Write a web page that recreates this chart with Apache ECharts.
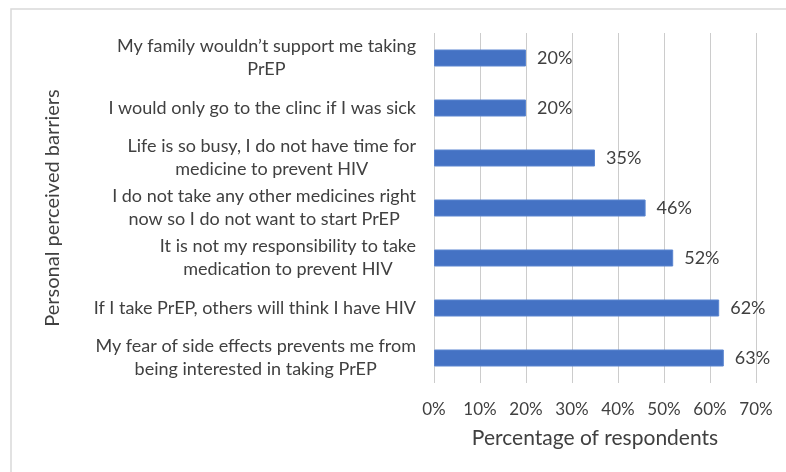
<!DOCTYPE html>
<html>
<head>
<meta charset="utf-8">
<script src="https://cdn.jsdelivr.net/npm/echarts@6/dist/echarts.min.js"></script>
<style>
  html, body { margin: 0; padding: 0; background: #ffffff; }
  #chart { width: 786px; height: 472px; }
</style>
</head>
<body>
<div id="chart"></div>
<script>
// Barriers, listed top to bottom
const barriers = [
  'My family wouldn\u2019t support me taking\nPrEP',
  'I would only go to the clinc if I was sick',
  'Life is so busy, I do not have time for\nmedicine to prevent HIV',
  'I do not take any other medicines right\nnow so I do not want to start PrEP',
  'It is not my responsibility to take\nmedication to prevent HIV',
  'If I take PrEP, others will think I have HIV',
  'My fear of side effects prevents me from\nbeing interested in taking PrEP'
];
// Share of respondents (%)
const shares = [20, 20, 35, 46, 52, 62, 63];
// Axis ticks (%)
const xTicks = [0, 10, 20, 30, 40, 50, 60, 70];

const FONT = 'Lato';
const TEXT = '#404040';

const chart = echarts.init(document.getElementById('chart'), null, { renderer: 'canvas' });

chart.setOption({
  backgroundColor: '#ffffff',
  animation: false,
  textStyle: { fontFamily: FONT, color: TEXT },
  graphic: [{
    type: 'rect',
    shape: { x: 11, y: 9, width: 790, height: 480 },
    style: { fill: 'none', stroke: '#d9d9d9', lineWidth: 1.5 },
    silent: true
  }],
  grid: { left: 434, right: 30, top: 33, bottom: 89 },
  xAxis: {
    type: 'value',
    min: xTicks[0],
    max: xTicks[xTicks.length - 1],
    interval: xTicks[1] - xTicks[0],
    name: 'Percentage of respondents',
    nameLocation: 'middle',
    nameGap: 45,
    nameTextStyle: { fontFamily: FONT, fontSize: 21, color: TEXT },
    axisLine: { show: false },
    axisTick: { show: false },
    axisLabel: { formatter: '{value}%', fontFamily: FONT, fontSize: 17, color: TEXT, margin: 18 },
    splitLine: { show: true, lineStyle: { color: '#cccccc', width: 1 } }
  },
  yAxis: {
    type: 'category',
    data: barriers,
    inverse: true,
    name: 'Personal perceived barriers',
    nameLocation: 'middle',
    nameGap: 371,
    nameTextStyle: { fontFamily: FONT, fontSize: 20, color: TEXT },
    axisLine: { show: false },
    axisTick: { show: false },
    splitLine: { show: false },
    axisLabel: {
      margin: 18,
      align: 'right',
      formatter: function (v) {
        return v.split('\n').map(function (s) { return '{c|' + s + '}'; }).join('\n');
      },
      rich: {
        c: { align: 'center', fontFamily: FONT, fontSize: 18, color: TEXT, lineHeight: 23 }
      }
    }
  },
  series: [{
    type: 'bar',
    data: shares,
    barWidth: 17,
    itemStyle: { color: '#4472C4', borderColor: '#5a85d0', borderWidth: 1 },
    label: {
      show: true,
      position: 'right',
      distance: 11,
      formatter: '{c}%',
      fontFamily: FONT,
      fontSize: 18,
      color: TEXT
    }
  }]
});
</script>
</body>
</html>
